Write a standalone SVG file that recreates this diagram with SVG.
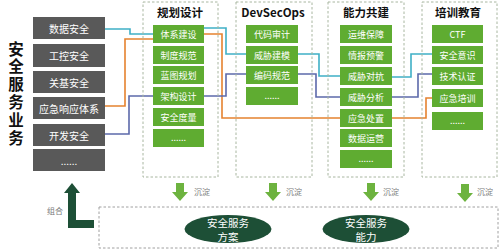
<svg xmlns="http://www.w3.org/2000/svg" width="499" height="249" viewBox="0 0 499 249">
<defs>
<style>
.gbox{fill:#595959}
.gtxt{fill:#fff;font-family:"Noto Sans CJK SC","Liberation Sans",sans-serif;font-size:10px;text-anchor:middle;dominant-baseline:central}
.box{fill:#5fac31}
.btxt{fill:#fff;font-family:"Noto Sans CJK SC","Liberation Sans",sans-serif;font-size:9px;text-anchor:middle;dominant-baseline:central}
.col{fill:none;stroke:#a8b6a0;stroke-width:1;stroke-dasharray:2.5,2}
.ttl{fill:#111;font-family:"Noto Sans CJK SC","Liberation Sans",sans-serif;font-size:11.5px;font-weight:bold;text-anchor:middle}
.lnk{fill:none;stroke-width:1.6}
.c{stroke:#3fb0c6}
.o{stroke:#e5822f}
.b{stroke:#5c69aa}
.dn{fill:#6db33f}
.sm{fill:#7a7a7a;font-family:"Noto Sans CJK SC","Liberation Sans",sans-serif;font-size:8px}
.ell{fill:#1d4f36}
.etxt{fill:#fff;font-family:"Noto Sans CJK SC","Liberation Sans",sans-serif;font-size:10.5px;text-anchor:middle}
.vt{fill:#111;font-family:"Noto Sans CJK SC","Liberation Sans",sans-serif;font-size:15.5px;font-weight:bold;writing-mode:vertical-rl;letter-spacing:2.3px}
</style>
</defs>
<rect width="499" height="249" fill="#fff"/>
<g id="title">
<text class="vt" x="16" y="41">安全服务业务</text>
</g>
<g id="left">
<rect class="gbox" x="33" y="17" width="72" height="22"/><text class="gtxt" x="69" y="28">数据安全</text>
<rect class="gbox" x="33" y="44" width="72" height="23"/><text class="gtxt" x="69" y="55.5">工控安全</text>
<rect class="gbox" x="33" y="71" width="72" height="22"/><text class="gtxt" x="69" y="82">关基安全</text>
<rect class="gbox" x="33" y="97" width="72" height="22"/><text class="gtxt" x="69" y="108">应急响应体系</text>
<rect class="gbox" x="33" y="124" width="72" height="22"/><text class="gtxt" x="69" y="135">开发安全</text>
<rect class="gbox" x="33" y="149" width="72" height="22"/><text class="gtxt" x="69" y="160">......</text>
</g>
<g id="connectors">
<path class="lnk c" d="M105,29 H130 V34 H153"/>
<path class="lnk o" d="M105,106 H125 V39 H153"/>
<path class="lnk b" d="M105,134 H129 V96 H153"/>
<path class="lnk c" d="M204,28 H226 V54 H246"/>
<path class="lnk o" d="M204,34 H222 V118 H340"/>
<path class="lnk b" d="M204,96 H226 V74 H246"/>
<path class="lnk c" d="M298,54 H319 V76 H340"/>
<path class="lnk b" d="M298,74 H316 V97 H340"/>
<path class="lnk c" d="M392,77 H411 V54 H432"/>
<path class="lnk b" d="M392,97 H418 V74 H432"/>
<path class="lnk o" d="M392,118 H426 V98 H432"/>
</g>
<g id="col1">
<rect class="col" x="143" y="2" width="75" height="175"/>
<text class="ttl" x="180" y="17">规划设计</text>
<rect class="box" x="153" y="25" width="51" height="18"/><text class="btxt" x="178.5" y="34">体系建设</text>
<rect class="box" x="153" y="46" width="51" height="18"/><text class="btxt" x="178.5" y="55">制度规范</text>
<rect class="box" x="153" y="66" width="51" height="18"/><text class="btxt" x="178.5" y="75">蓝图规划</text>
<rect class="box" x="153" y="87" width="51" height="18"/><text class="btxt" x="178.5" y="96">架构设计</text>
<rect class="box" x="153" y="108" width="51" height="18"/><text class="btxt" x="178.5" y="117">安全度量</text>
<rect class="box" x="153" y="129" width="51" height="18"/><text class="btxt" x="178.5" y="137">......</text>
</g>
<g id="col2">
<rect class="col" x="236" y="2" width="76" height="175"/>
<text class="ttl" x="273" y="17" font-family="Liberation Sans, sans-serif">DevSecOps</text>
<rect class="box" x="246" y="25" width="52" height="18"/><text class="btxt" x="272" y="34">代码审计</text>
<rect class="box" x="246" y="46" width="52" height="18"/><text class="btxt" x="272" y="55">威胁建模</text>
<rect class="box" x="246" y="66" width="52" height="18"/><text class="btxt" x="272" y="75">编码规范</text>
<rect class="box" x="246" y="87" width="52" height="18"/><text class="btxt" x="272" y="95">......</text>
</g>
<g id="col3">
<rect class="col" x="328" y="2" width="76" height="175"/>
<text class="ttl" x="366" y="17">能力共建</text>
<rect class="box" x="340" y="25" width="52" height="18"/><text class="btxt" x="366" y="34">运维保障</text>
<rect class="box" x="340" y="46" width="52" height="18"/><text class="btxt" x="366" y="55">情报预警</text>
<rect class="box" x="340" y="67" width="52" height="18"/><text class="btxt" x="366" y="76">威胁对抗</text>
<rect class="box" x="340" y="88" width="52" height="18"/><text class="btxt" x="366" y="97">威胁分析</text>
<rect class="box" x="340" y="109" width="52" height="18"/><text class="btxt" x="366" y="118">应急处置</text>
<rect class="box" x="340" y="129" width="52" height="18"/><text class="btxt" x="366" y="138">数据运营</text>
<rect class="box" x="340" y="150" width="52" height="18"/><text class="btxt" x="366" y="158">......</text>
</g>
<g id="col4">
<rect class="col" x="422" y="2" width="75" height="175"/>
<text class="ttl" x="458" y="17">培训教育</text>
<rect class="box" x="432" y="25" width="51" height="18"/><text class="btxt" x="457.5" y="34" font-family="Liberation Sans, sans-serif">CTF</text>
<rect class="box" x="432" y="46" width="51" height="18"/><text class="btxt" x="457.5" y="55">安全意识</text>
<rect class="box" x="432" y="67" width="51" height="18"/><text class="btxt" x="457.5" y="76">技术认证</text>
<rect class="box" x="432" y="89" width="51" height="18"/><text class="btxt" x="457.5" y="98">应急培训</text>
<rect class="box" x="432" y="112" width="51" height="18"/><text class="btxt" x="457.5" y="120">......</text>
</g>
<g id="arrows">
<path class="dn" d="M176,183 H184 V192 H188 L180,201 L172,192 H176 Z"/>
<path class="dn" d="M269,183 H277 V192 H281 L273,201 L265,192 H269 Z"/>
<path class="dn" d="M367,183 H375 V192 H379 L371,201 L363,192 H367 Z"/>
<path class="dn" d="M461,184 H469 V193 H473 L465,202 L457,193 H461 Z"/>
<text class="sm" x="194" y="195">沉淀</text>
<text class="sm" x="286" y="195">沉淀</text>
<text class="sm" x="383" y="195">沉淀</text>
<text class="sm" x="477" y="195">沉淀</text>
</g>
<g id="combine">
<path fill="#1d4f36" d="M68,193 H64 L72,183 L80,193 H76 V220 H94 V228 H68 Z"/>
<text class="sm" x="47" y="214">组合</text>
</g>
<g id="bottom">
<rect class="col" x="99" y="207" width="399" height="41" style="stroke:#a0a0a0"/>
</g>
<g id="plan">
<ellipse class="ell" cx="228" cy="229" rx="43.5" ry="14"/>
<text class="etxt"><tspan x="228" y="226.5">安全服务</tspan><tspan x="228" y="240.5">方案</tspan></text>
</g>
<g id="capability">
<ellipse class="ell" cx="366" cy="229" rx="43.5" ry="14"/>
<text class="etxt"><tspan x="366" y="226.5">安全服务</tspan><tspan x="366" y="240.5">能力</tspan></text>
</g>
</svg>
